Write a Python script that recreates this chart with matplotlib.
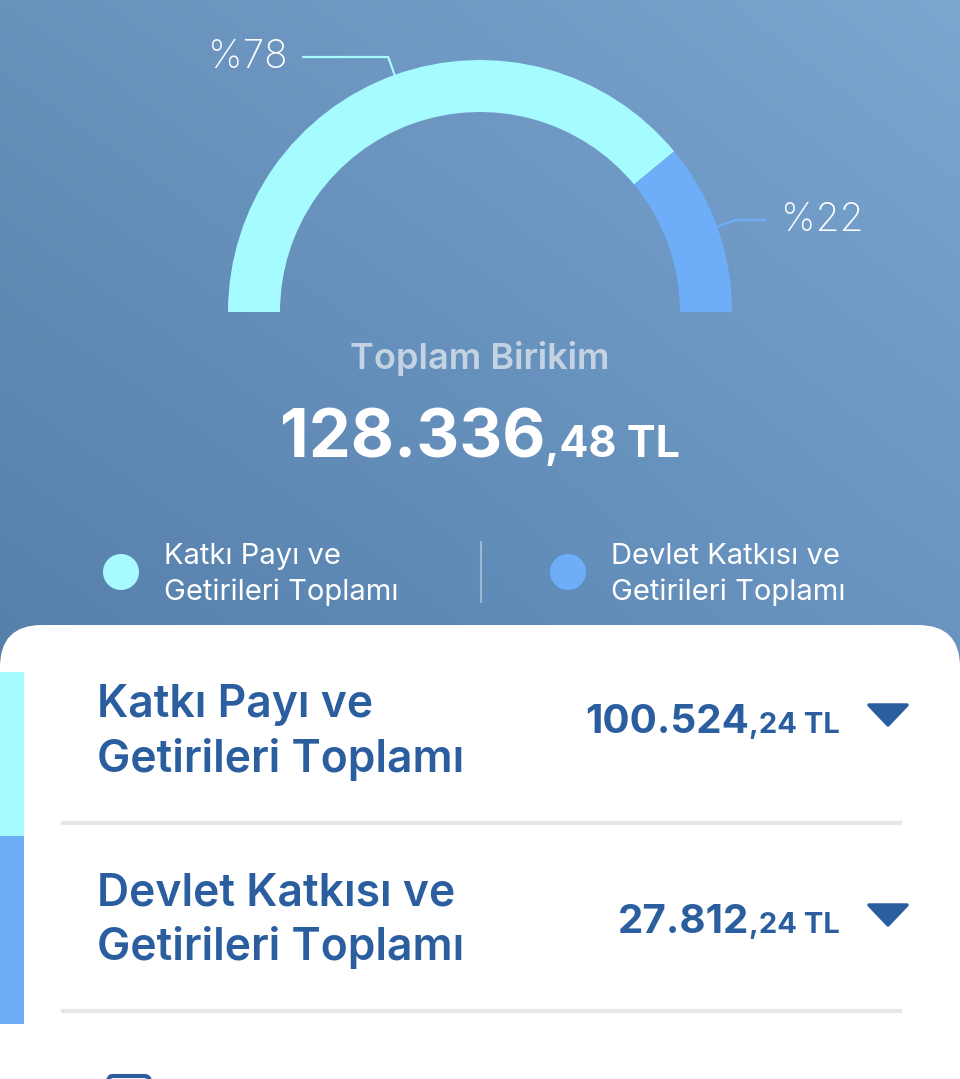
import numpy as np
import matplotlib
matplotlib.use("Agg")
import matplotlib.pyplot as plt
from matplotlib.patches import Wedge, Circle, FancyBboxPatch, Rectangle, Polygon

plt.rcParams["font.family"] = ["Inter", "DejaVu Sans"]

# data
categories = ["Katkı Payı ve\nGetirileri Toplamı", "Devlet Katkısı ve\nGetirileri Toplamı"]
shares = [78, 22]
amount_main = ["100.524", "27.812"]
amount_dec = [",24 TL", ",24 TL"]
total_main = "128.336"
total_dec = ",48 TL"
total_title = "Toplam Birikim"
colors = ["#a5fbfd", "#6eaef8"]

W, H = 960, 1079
DARK = "#2b5e9f"

fig = plt.figure(figsize=(W / 100, H / 100), dpi=100)
ax = fig.add_axes([0, 0, 1, 1])
ax.set_xlim(0, W)
ax.set_ylim(H, 0)
ax.axis("off")

# background gradient
xx, yy = np.meshgrid(np.linspace(0, 1, 200), np.linspace(0, 1, 200))
c_tl = np.array([0x68, 0x91, 0xbc]) / 255
c_tr = np.array([0x7b, 0xa6, 0xd0]) / 255
c_bl = np.array([0x55, 0x7e, 0xaa]) / 255
c_br = np.array([0x68, 0x93, 0xc0]) / 255
grad = (c_tl * ((1 - xx) * (1 - yy))[..., None] + c_tr * (xx * (1 - yy))[..., None]
        + c_bl * ((1 - xx) * yy)[..., None] + c_br * (xx * yy)[..., None])
ax.imshow(grad, extent=[0, W, 680, 0], aspect="auto", zorder=0)

# gauge
cx, cy, r_out, width = 480, 312, 252, 52
start = 180.0
for share, col in zip(shares, colors):
    span = 180.0 * share / sum(shares)
    ax.add_patch(Wedge((cx, cy), r_out, start, start + span, width=width,
                       facecolor=col, edgecolor="none", zorder=2))
    mid = np.deg2rad(start + span / 2)
    p0 = (cx + r_out * np.cos(mid), cy + r_out * np.sin(mid))
    p1 = (cx + (r_out + 19) * np.cos(mid), cy + (r_out + 19) * np.sin(mid))
    if np.cos(mid) < 0:
        p2 = (p1[0] - 85, p1[1])
        ax.text(p2[0] - 16, p2[1], f"%{share}", ha="right", va="center",
                fontsize=28, color="white", fontweight="light", zorder=3)
    else:
        p2 = (p1[0] + 30, p1[1])
        ax.text(p2[0] + 16, p2[1], f"%{share}", ha="left", va="center",
                fontsize=28, color="white", fontweight="light", zorder=3)
    ax.plot([p0[0], p1[0], p2[0]], [p0[1], p1[1], p2[1]], color=col, lw=1.6, zorder=3)
    start += span

ax.text(cx, 359, total_title, ha="center", va="center", fontsize=26,
        color="#c3d3e4", fontweight="semibold")

renderer = fig.canvas.get_renderer()


def split_amount(x_ref, y, main, dec, size_main, size_dec, color, anchor="right"):
    t_dec = ax.text(0, y, dec, ha="left", va="baseline", fontsize=size_dec,
                    color=color, fontweight="bold")
    t_main = ax.text(0, y, main, ha="left", va="baseline", fontsize=size_main,
                     color=color, fontweight="bold")
    w_dec = t_dec.get_window_extent(renderer).width
    w_main = t_main.get_window_extent(renderer).width
    if anchor == "center":
        left = x_ref - (w_dec + w_main) / 2
    else:
        left = x_ref - (w_dec + w_main)
    t_main.set_x(left)
    t_dec.set_x(left + w_main)


split_amount(480, 457, total_main, total_dec, 48, 31, "white", anchor="center")

# legend
leg_x = [121, 568]
for lx, col, lab in zip(leg_x, colors, categories):
    ax.add_patch(Circle((lx, 572), 18, facecolor=col, edgecolor="none"))
    for k, line in enumerate(lab.split("\n")):
        ax.text(lx + 43, 564 + 36 * k, line, ha="left", va="baseline", fontsize=21,
                color="white")
ax.plot([481, 481], [542, 602], color="#9db8d6", lw=1.5)

# white card
ax.add_patch(FancyBboxPatch((0, 625), W, 600, boxstyle="round,pad=0,rounding_size=42",
                            facecolor="white", edgecolor="none", zorder=4))

# left strip
strip = [(672, 836), (836, 1024)]
for (y0, y1), col in zip(strip, colors):
    ax.add_patch(Rectangle((0, y0), 24, y1 - y0, facecolor=col, edgecolor="none", zorder=5))
ax.add_patch(FancyBboxPatch((0, 672), 24, 40, boxstyle="round,pad=0,rounding_size=10",
                            facecolor=colors[0], edgecolor="none", zorder=5))

# rows
title_base = [717, 905]
amount_base = [733, 933]
for tb, ab, lab, am, dc in zip(title_base, amount_base, categories, amount_main, amount_dec):
    for k, line in enumerate(lab.split("\n")):
        ax.text(97, tb + 55 * k, line, ha="left", va="baseline", fontsize=32,
                color=DARK, fontweight="semibold")
    split_amount(840, ab, am, dc, 29, 21, DARK)
    ax.add_patch(Polygon([[869, ab - 28], [907, ab - 28], [888, ab - 8]], closed=True,
                         facecolor=DARK, edgecolor=DARK, lw=2.5, joinstyle="round",
                         zorder=6))
    ax.plot([63, 900], [tb + 106, tb + 106], color="#e6e6e6", lw=3, zorder=6)

for t in ax.texts:
    if t.get_position()[1] > 625:
        t.set_zorder(6)

# partial icon at bottom
ax.add_patch(FancyBboxPatch((106, 1076), 44, 30, boxstyle="round,pad=0,rounding_size=6",
                            facecolor="none", edgecolor=DARK, lw=3, zorder=6))

fig.savefig("out.png", dpi=100)
